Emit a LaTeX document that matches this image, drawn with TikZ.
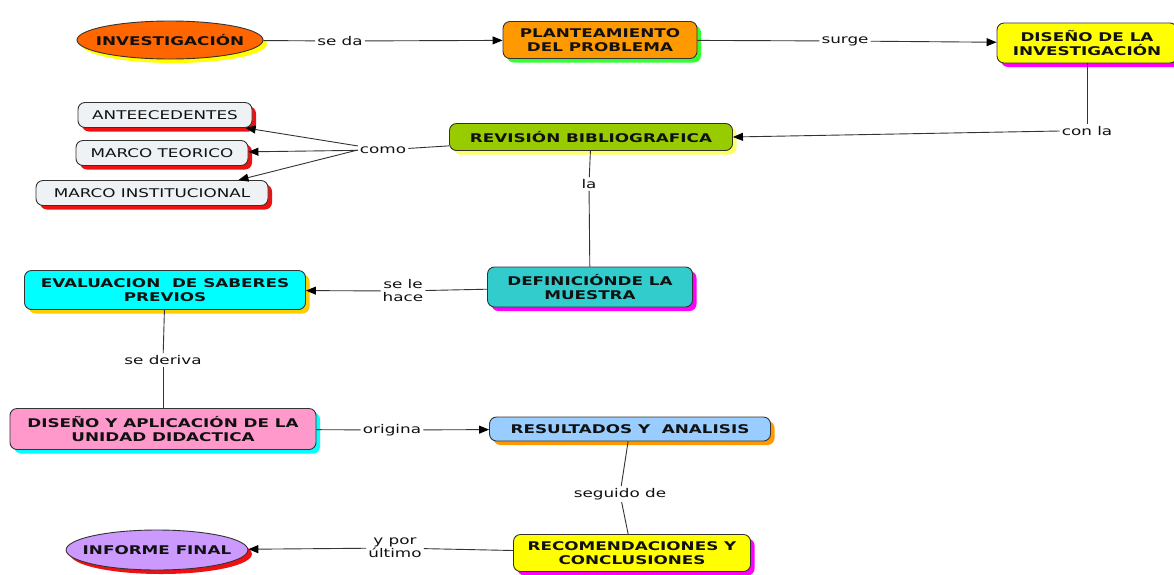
\documentclass[tikz,border=0pt]{standalone}
\usepackage{fontspec}
\setmainfont{DejaVu Sans}[FakeStretch=1.4]
\usetikzlibrary{shapes.geometric,shadows,arrows.meta}
\definecolor{bord}{HTML}{333333}
\definecolor{linec}{HTML}{333333}
\definecolor{txt}{HTML}{111111}
\definecolor{cInv}{HTML}{FF6600}
\definecolor{cPlan}{HTML}{FF9900}
\definecolor{cYel}{HTML}{FFFF00}
\definecolor{cMag}{HTML}{FF00FF}
\definecolor{cGreen}{HTML}{33FF33}
\definecolor{cRev}{HTML}{99CC00}
\definecolor{cRevSh}{HTML}{FFFF66}
\definecolor{cGray}{HTML}{EEF2F4}
\definecolor{cRed}{HTML}{EE1111}
\definecolor{cTeal}{HTML}{33CCCC}
\definecolor{cCyan}{HTML}{00FFFF}
\definecolor{cGold}{HTML}{FFCC00}
\definecolor{cPink}{HTML}{FF99CC}
\definecolor{cBlue}{HTML}{99CCFF}
\definecolor{cLav}{HTML}{CC99FF}
\begin{document}
\begin{tikzpicture}[x=1pt,y=-1pt,
  box/.style={draw=bord, line width=0.9pt, rounded corners=7pt, align=center,
    font=\fontsize{12}{13.5}\selectfont\bfseries, inner sep=2pt, text=txt},
  sbox/.style={draw=bord, line width=0.9pt, rounded corners=7pt, align=center,
    font=\fontsize{12}{13.5}\selectfont, inner sep=2pt, text=txt, fill=cGray},
  oval/.style={ellipse, draw=bord, line width=0.9pt, align=center,
    font=\fontsize{12}{13.5}\selectfont\bfseries, inner xsep=-10pt, inner ysep=0pt, text=txt},
  sh/.style={drop shadow={shadow xshift=4pt, shadow yshift=-4pt, fill=#1, opacity=1}},
  lbl/.style={font=\fontsize{12}{13}\selectfont, align=center, inner sep=2pt, text=txt},
  con/.style={draw=linec, line width=0.9pt},
  arr/.style={con, -{Triangle[length=10pt,width=8pt,color=black]}},
]
\useasboundingbox[fill=white] (0,0) rectangle (1174,574);

% nodes
\node[oval, fill=cInv, sh=cYel, minimum width=186pt, minimum height=38pt] (inv) at (170,40) {INVESTIGACIÓN};
\node[box, fill=cPlan, sh=cGreen, minimum width=194pt, minimum height=37pt] (plan) at (600,40) {PLANTEAMIENTO\\DEL PROBLEMA};
\node[box, fill=cYel, sh=cMag, minimum width=180pt, minimum height=40pt] (dis) at (1087,43) {DISEÑO DE LA\\INVESTIGACIÓN};
\node[box, fill=cRev, sh=cRevSh, minimum width=283pt, minimum height=27pt] (rev) at (591,137) {REVISIÓN BIBLIOGRAFICA};
\node[sbox, sh=cRed, minimum width=174pt, minimum height=25pt] (ante) at (165,115) {ANTEECEDENTES};
\node[sbox, sh=cRed, minimum width=172pt, minimum height=25pt] (teo) at (162,153) {MARCO TEORICO};
\node[sbox, sh=cRed, minimum width=232pt, minimum height=25pt] (minst) at (152,193) {MARCO INSTITUCIONAL};
\node[box, fill=cTeal, sh=cMag, minimum width=205pt, minimum height=40pt] (def) at (590,287) {DEFINICIÓNDE LA\\MUESTRA};
\node[box, fill=cCyan, sh=cGold, minimum width=281pt, minimum height=39pt] (eva) at (165,290) {EVALUACION~ DE SABERES\\PREVIOS};
\node[box, fill=cPink, sh=cCyan, minimum width=306pt, minimum height=41pt] (dya) at (163,429) {DISEÑO Y APLICACIÓN DE LA\\UNIDAD DIDACTICA};
\node[box, fill=cBlue, sh=cPlan, minimum width=281pt, minimum height=24pt] (res) at (630,429) {RESULTADOS Y~ ANALISIS};
\node[box, fill=cYel, sh=cMag, minimum width=237pt, minimum height=37pt] (rec) at (632,553) {RECOMENDACIONES Y\\CONCLUSIONES};
\node[oval, fill=cLav, sh=cRed, minimum width=179pt, minimum height=40pt] (inf) at (157,550) {INFORME FINAL};

% labels
\node[lbl] (seda) at (340,41) {se da};
\node[lbl] (surge) at (845,41) {surge};
\node[lbl] (conla) at (1087,131) {con la};
\node[lbl] (como) at (383,150) {como};
\node[lbl] (la) at (589,184) {la};
\node[lbl] (hace) at (403,291) {se le\\hace};
\node[lbl] (deriva) at (163,360) {se deriva};
\node[lbl] (orig) at (392,430) {origina};
\node[lbl] (seg) at (620,494) {seguido de};
\node[lbl] (ult) at (395,548) {y por\\último};

% connectors
\draw[con] (inv) -- (seda);
\draw[arr] (seda) -- (plan);
\draw[con] (plan) -- (surge);
\draw[arr] (surge) -- (dis);
\draw[con] (dis) -- (conla);
\draw[arr] (conla.west) -- (rev.east);
\draw[con] (rev) -- (como);
\draw[arr] (como) -- (ante);
\draw[arr] (como) -- (teo);
\draw[arr] (como.west) -- ([xshift=-30pt]minst.north east);
\draw[con] (rev) -- (la);
\draw[con] (la) -- (def);
\draw[con] (def) -- (hace);
\draw[arr] (hace) -- (eva);
\draw[con] (eva) -- (deriva);
\draw[con] (deriva) -- (dya);
\draw[con] (dya) -- (orig);
\draw[arr] (orig) -- (res);
\draw[con] (res) -- (seg);
\draw[con] (seg) -- (rec);
\draw[con] (rec) -- (ult);
\draw[arr] (ult) -- (inf);
\end{tikzpicture}
\end{document}
